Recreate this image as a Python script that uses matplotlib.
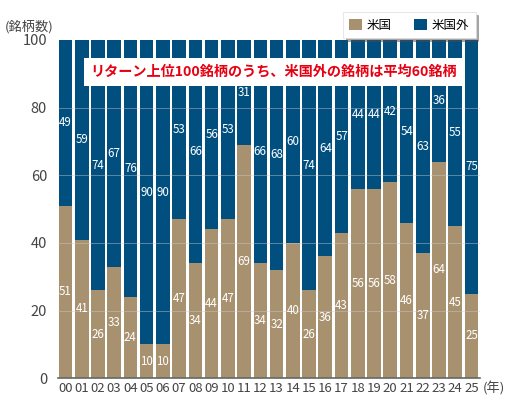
import matplotlib.pyplot as plt
import numpy as np

plt.rcParams['font.family'] = ['Noto Sans CJK JP', 'DejaVu Sans']

years = ['00', '01', '02', '03', '04', '05', '06', '07', '08', '09', '10', '11', '12',
         '13', '14', '15', '16', '17', '18', '19', '20', '21', '22', '23', '24', '25']
us = [51, 41, 26, 33, 24, 10, 10, 47, 34, 44, 47, 69, 34,
      32, 40, 26, 36, 43, 56, 56, 58, 46, 37, 64, 45, 25]
non_us = [49, 59, 74, 67, 76, 90, 90, 53, 66, 56, 53, 31, 66,
          68, 60, 74, 64, 57, 44, 44, 42, 54, 63, 36, 55, 75]

tan = '#a8916e'
blue = '#004f7e'

fig = plt.figure(figsize=(5.1, 4.04), dpi=100)
ax = fig.add_axes([0.114, 0.064, 0.828, 0.837])

x = np.arange(len(years))
w = 0.84
ax.bar(x, us, w, color=tan, label='米国', zorder=2)
ax.bar(x, non_us, w, bottom=us, color=blue, label='米国外', zorder=2)

for i in range(len(years)):
    ax.text(x[i], us[i] / 2, str(us[i]), ha='center', va='center',
            color='white', fontsize=8.3, zorder=4)
    ax.text(x[i], us[i] + non_us[i] / 2, str(non_us[i]), ha='center', va='center',
            color='white', fontsize=8.3, zorder=4)

for yv in [20, 40, 60, 80]:
    ax.axhline(yv, color='#cccccc', lw=0.7, alpha=0.45, zorder=3)

ax.set_xlim(-0.45, 25.55)
ax.set_ylim(0, 100)
ax.set_yticks([0, 20, 40, 60, 80, 100])
ax.set_xticks(x)
ax.set_xticklabels(years)
ax.tick_params(axis='x', length=0, labelsize=9.5, colors='#444444', pad=3)
ax.tick_params(axis='y', length=0, labelsize=10.5, colors='#444444', pad=8)
for s in ['top', 'right', 'left']:
    ax.spines[s].set_visible(False)
ax.spines['bottom'].set_color('#666666')
ax.spines['bottom'].set_linewidth(1.2)

fig.text(0.01, 0.925, '(銘柄数)', fontsize=9.5, color='#444444')
ax.text(25.7, -3.0, '(年)', fontsize=9.5, color='#444444', ha='left', va='center',
        clip_on=False)

ax.text(1.55, 90.5, 'リターン上位100銘柄のうち、米国外の銘柄は平均60銘柄',
        fontsize=10.2, fontweight='bold', color='#e60012', ha='left', va='center',
        zorder=5, bbox=dict(facecolor='white', edgecolor='none', pad=5))

leg = fig.legend(loc='upper right', bbox_to_anchor=(0.945, 0.985), ncol=2,
                 fontsize=9, frameon=True, fancybox=False, shadow=True,
                 handlelength=1.0, handleheight=1.0, columnspacing=1.8,
                 handletextpad=0.4, borderpad=0.5)
leg.get_frame().set_edgecolor('#dddddd')
leg.get_frame().set_linewidth(0.5)

fig.savefig('out.png', dpi=100)
